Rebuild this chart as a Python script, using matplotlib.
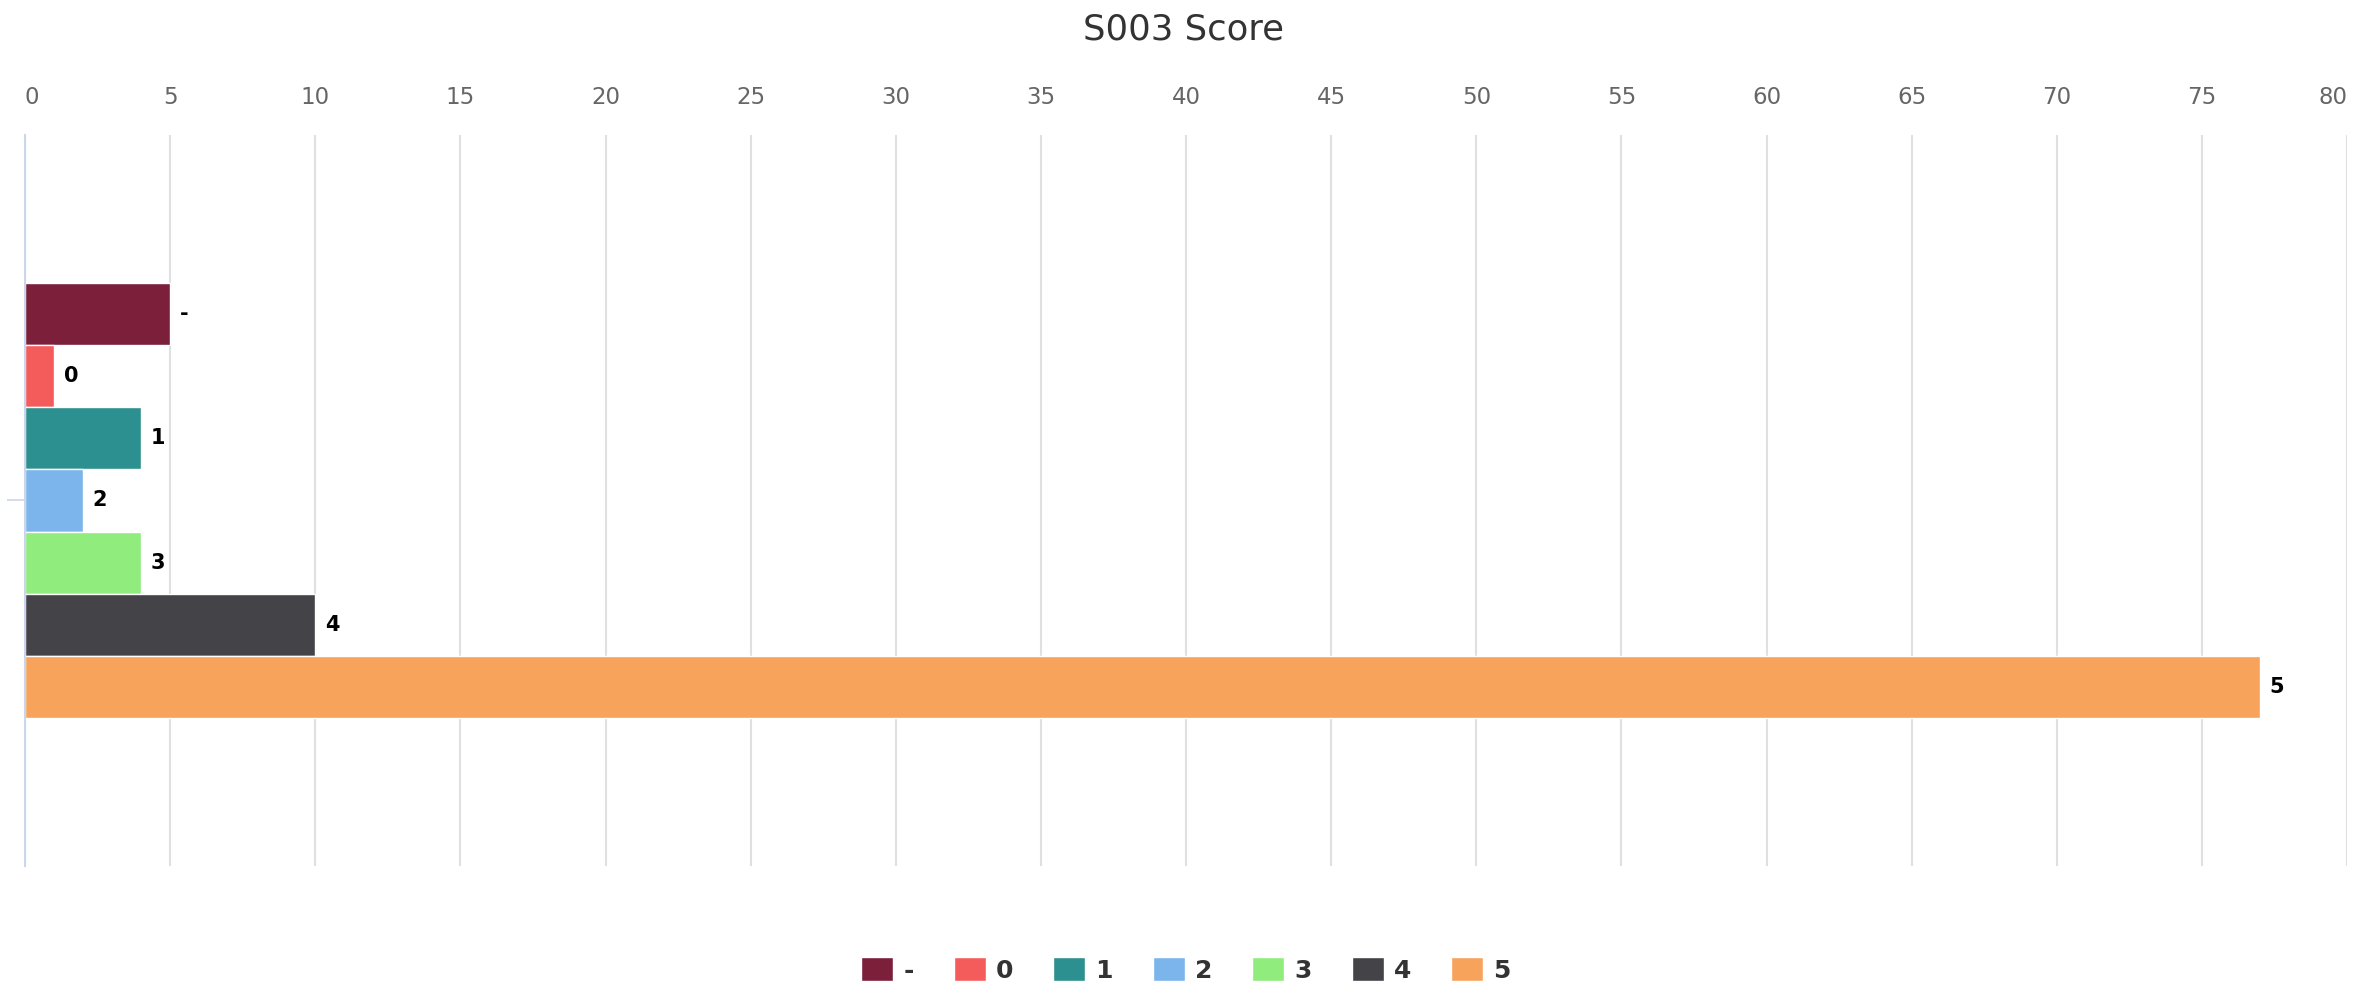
import numpy as np
import matplotlib.pyplot as plt
from matplotlib.patches import Patch

# Dados do gráfico
series = ['-', '0', '1', '2', '3', '4', '5']
valores = [5, 1, 4, 2, 4, 10, 77]
cores = ['#7b1f3a', '#f45b5b', '#2b908f', '#7cb5ec', '#90ed7d', '#434348', '#f7a35c']
ticks_x = list(range(0, 85, 5))

plt.rcParams['font.family'] = 'DejaVu Sans'

fig = plt.figure(figsize=(23.67, 9.94), dpi=100)
ax = fig.add_axes([0.01056, 0.1288, 0.9916 - 0.01056, 0.8642 - 0.1288])

# Barras agrupadas em uma unica categoria, a primeira serie em cima
altura = 0.0849
n = len(series)
for i, (nome, v, c) in enumerate(zip(series, valores, cores)):
    y = ((n - 1) / 2 - i) * altura
    ax.barh(y, v, height=altura, color=c, edgecolor='white', linewidth=1, zorder=3)
    ax.annotate(nome, (v, y), xytext=(7, 0), textcoords='offset points',
                va='center', ha='left', fontsize=15, fontweight='bold', color='black')

ax.set_xlim(0, 80)
ax.set_ylim(-0.5, 0.5)
ax.set_xticks(ticks_x)
ax.xaxis.tick_top()
ax.tick_params(axis='x', length=0, pad=19, labelsize=16.5, labelcolor='#666666')
labels_x = ax.get_xticklabels()
labels_x[0].set_horizontalalignment('left')
labels_x[-1].set_horizontalalignment('right')
ax.set_yticks([0])
ax.set_yticklabels([''])
ax.tick_params(axis='y', length=13, width=1.2, color='#ccd6eb')

# Grade vertical
ax.grid(axis='x', color='#e0e0e0', linewidth=1.5, zorder=0)
for s in ['top', 'right', 'bottom']:
    ax.spines[s].set_visible(False)
ax.spines['left'].set_color('#ccd6eb')
ax.spines['left'].set_linewidth(1.5)
ax.spines['left'].set_zorder(4)

fig.suptitle('S003 Score', y=0.97, va='center', fontsize=25.5, color='#333333')

# Legenda na parte de baixo
handles = [Patch(facecolor=c, edgecolor='white', label=s) for s, c in zip(series, cores)]
leg = fig.legend(handles=handles, loc='center', bbox_to_anchor=(0.501, 0.024), ncol=n,
                 frameon=False, handlelength=1.28, handleheight=1.1, handletextpad=0.4,
                 columnspacing=1.6, prop={'size': 18, 'weight': 'bold'})
for t in leg.get_texts():
    t.set_color('#333333')

fig.savefig('out.png', dpi=100)
